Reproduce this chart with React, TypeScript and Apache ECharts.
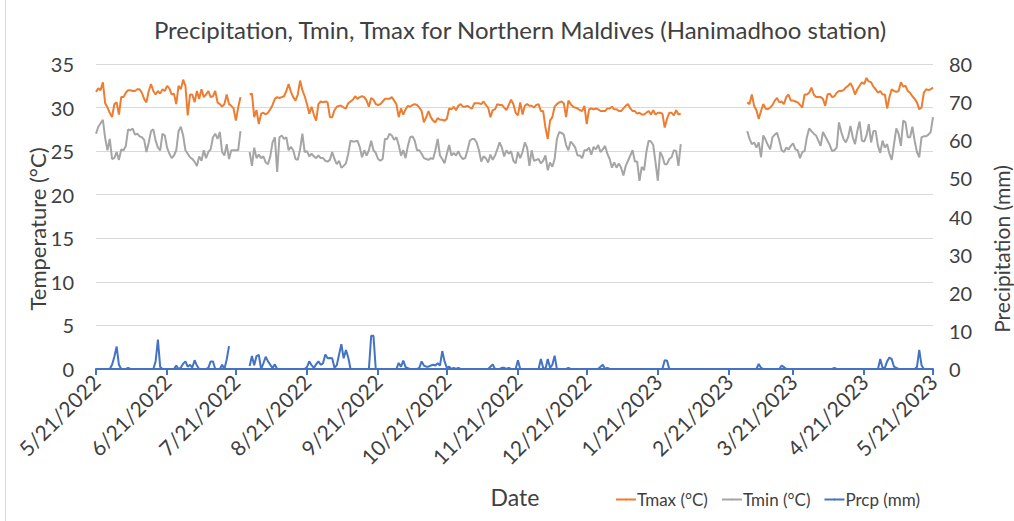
import React, { useEffect, useRef } from "react";
import * as echarts from "echarts";

const FONT = "Lato, 'Open Sans', sans-serif";
const TITLE = "Precipitation, Tmin, Tmax for Northern Maldives (Hanimadhoo station)";
const SERIES_NAMES = ["Tmax (°C)", "Tmin (°C)", "Prcp (mm)"];
const COLORS = ["#ED7D31", "#A5A5A5", "#4472C4"];
const Y_LEFT_NAME = "Temperature (°C)";
const Y_RIGHT_NAME = "Precipitation (mm)";
const X_NAME = "Date";

// Daily categories: 5/21/2022 ... 5/21/2023 (366 days)
function buildDates(): string[] {
  const out: string[] = [];
  const t0 = Date.UTC(2022, 4, 21);
  for (let i = 0; i < 366; i++) {
    const dt = new Date(t0 + i * 86400000);
    out.push(`${dt.getUTCMonth() + 1}/${dt.getUTCDate()}/${dt.getUTCFullYear()}`);
  }
  return out;
}
const dates = buildDates();

const N = null;
// Tmax (°C), rows of 10 days
const tmax = [
  31.8,32.2,32.0,32.9,30.5,30.0,29.4,28.9,30.4,30.6,
  29.2,31.2,31.2,31.7,32.0,32.0,31.9,31.9,32.1,32.1,
  31.7,31.0,30.6,31.9,32.7,31.9,31.5,31.9,31.6,32.1,
  31.9,32.5,32.2,31.5,31.6,30.4,32.5,32.1,33.2,32.5,
  29.1,31.5,31.5,30.6,31.9,31.0,32.1,31.2,31.5,31.9,
  31.2,31.3,31.9,30.6,30.4,30.1,30.4,31.5,30.4,30.2,
  29.9,28.5,30.0,31.2,N,N,N,31.5,31.6,28.9,
  29.7,28.1,29.3,29.4,29.2,29.4,29.8,30.3,31.0,31.2,
  31.1,31.2,31.3,31.9,32.7,31.8,31.2,30.8,31.5,33.1,
  32.0,31.3,30.4,29.3,30.1,29.2,28.5,30.4,30.7,30.6,
  30.7,30.6,28.9,28.9,29.7,30.1,30.2,30.2,30.0,29.9,
  30.5,30.7,30.9,31.3,31.0,31.2,31.3,31.2,30.8,30.1,
  31.1,30.9,30.4,30.3,30.4,30.7,31.0,31.0,31.0,31.2,
  30.8,30.4,28.9,29.9,29.2,29.8,30.2,30.1,30.3,30.4,
  30.3,30.0,29.6,28.3,28.9,29.6,28.9,28.5,28.3,28.8,
  28.6,28.6,28.5,28.7,29.9,29.8,30.1,29.7,30.2,30.4,
  30.1,30.1,30.2,30.0,29.9,30.5,30.5,30.5,30.4,30.7,
  30.3,30.0,28.9,29.7,29.8,30.4,30.3,30.3,30.0,29.7,
  30.3,30.9,30.4,29.4,29.1,30.6,29.2,30.2,30.4,30.2,
  30.2,30.0,30.3,30.4,29.6,29.6,27.7,26.4,28.5,28.9,
  30.1,30.4,30.6,30.7,30.5,28.9,30.8,30.4,30.1,30.0,
  29.9,29.7,29.6,30.2,28.1,29.8,29.9,29.8,29.9,29.8,
  29.6,29.6,29.6,29.9,29.9,30.1,29.8,29.8,29.6,29.6,
  29.9,30.2,30.4,29.9,29.6,29.6,29.3,29.4,29.2,29.2,
  29.4,29.6,29.2,29.7,29.2,29.4,29.4,29.3,27.7,28.7,
  29.4,29.4,29.1,29.7,29.2,29.3,N,N,N,N,
  N,N,N,N,N,N,N,N,N,N,
  N,N,N,N,N,N,N,N,N,N,
  N,N,N,N,30.6,30.4,31.5,30.2,29.7,28.7,
  29.6,30.4,29.9,29.8,30.0,30.3,30.8,31.1,30.6,30.7,
  30.4,31.2,31.5,30.8,30.8,30.7,30.6,30.3,30.0,31.5,
  31.5,31.7,32.3,31.5,31.2,31.2,31.2,31.0,30.2,31.5,
  31.6,31.2,31.3,31.7,31.9,31.9,32.0,32.3,32.5,32.8,
  32.3,31.5,32.1,32.5,32.9,32.7,33.4,33.0,32.9,32.4,
  32.1,31.7,31.9,31.5,31.5,29.9,31.2,32.1,31.9,31.8,
  31.9,32.9,32.4,32.5,31.9,31.7,31.3,31.0,30.6,29.8,
  30.0,31.7,32.1,32.0,32.1,32.3,
];

// Tmin (°C), rows of 10 days
const tmin = [
  27.0,27.8,28.2,28.6,26.5,25.1,26.4,24.1,24.2,24.9,
  24.0,25.2,25.1,25.6,27.5,27.4,27.6,26.9,27.0,26.7,
  26.6,26.3,24.9,26.0,27.3,27.5,26.2,25.4,25.1,27.0,
  26.8,25.4,24.7,24.2,24.5,25.1,27.3,27.8,26.8,25.1,
  24.7,24.3,24.1,23.8,23.3,24.4,23.9,25.1,24.2,24.9,
  25.2,26.6,27.0,26.4,27.2,24.9,24.5,25.8,24.1,25.1,
  25.1,25.1,25.1,27.3,N,N,N,24.9,23.3,25.4,
  24.2,24.6,24.2,24.4,23.7,23.5,24.4,26.0,26.6,22.6,
  26.6,26.8,26.4,26.6,25.1,25.5,25.1,24.1,24.0,25.2,
  27.0,24.9,25.0,24.4,24.7,24.4,24.2,24.5,24.2,24.2,
  23.9,23.8,24.0,24.9,24.1,23.5,23.9,23.1,23.3,23.6,
  24.7,26.2,26.1,26.1,26.2,25.5,24.3,25.1,24.5,25.1,
  26.2,25.1,24.8,24.1,23.9,24.1,26.4,26.4,27.0,26.8,
  26.3,26.6,25.7,24.5,25.1,24.2,25.6,26.6,26.7,26.2,
  25.1,25.1,24.7,24.2,24.1,24.0,24.2,24.1,25.1,26.4,
  24.5,24.1,23.6,24.7,25.7,24.5,24.8,24.5,25.0,24.4,
  24.1,24.2,25.1,26.2,26.4,26.4,26.0,25.1,23.8,24.4,
  24.2,23.7,24.6,24.0,24.5,25.2,26.0,25.4,24.4,25.1,
  24.7,25.0,23.9,23.6,24.9,24.2,24.9,26.0,25.4,23.3,
  25.1,23.9,24.0,24.1,23.6,23.9,24.5,22.8,23.7,23.2,
  24.1,26.4,27.2,27.1,26.9,25.7,25.1,26.1,25.8,25.4,
  24.5,24.5,24.2,25.1,25.1,25.4,24.6,25.5,25.2,25.7,
  24.9,25.2,25.6,24.7,24.1,23.1,23.7,23.1,23.6,23.1,
  22.2,23.3,23.9,24.5,25.1,23.8,23.8,21.6,23.2,22.8,
  24.9,26.2,26.1,25.7,23.7,21.6,24.9,24.4,23.5,23.5,
  24.1,24.3,25.1,25.0,23.3,25.8,N,N,N,N,
  N,N,N,N,N,N,N,N,N,N,
  N,N,N,N,N,N,N,N,N,N,
  N,N,N,N,27.3,26.4,25.8,26.0,25.4,26.0,
  24.3,26.8,26.3,25.7,25.2,26.6,26.9,27.1,26.2,25.1,
  24.9,25.4,25.2,25.6,25.9,25.2,25.1,24.2,24.9,25.0,
  26.6,27.6,27.3,27.0,26.8,26.2,25.6,27.2,26.7,26.2,
  25.7,25.0,25.1,25.4,28.3,27.2,26.4,26.0,26.6,27.9,
  26.6,25.8,27.3,28.4,26.2,26.1,26.8,28.1,26.0,27.3,
  27.3,25.6,24.8,26.2,25.4,25.8,24.7,24.0,25.8,27.6,
  27.0,25.6,28.5,28.3,26.6,26.6,27.8,26.2,24.9,24.3,
  26.6,26.7,26.7,26.9,27.2,28.9,
];

// Precipitation (mm), rows of 10 days
const prcp = [
  0,0,0,0,0,0,0,1.1,3.2,5.9,
  1.1,0,0,0,0.3,0,0,0,0,0,
  0,0,0,0,0,0,2.0,7.7,0.5,0,
  0,0,0,0,0,0.9,0,0.4,1.4,2.0,
  0.6,1.1,0.4,2.3,0.9,0,0,0,0,0.3,
  2.0,2.0,0,0,0,1.1,0,2.5,6.0,N,
  N,N,N,N,N,N,N,0.8,3.4,1.0,
  3.4,3.7,0,1.5,3.2,2.0,1.1,0.3,1.2,0,
  0,0,0,0,0,0,0,0,0,0,
  0,0,0.5,2.0,1.0,0.3,1.2,2.0,1.1,1.5,
  3.8,2.8,2.9,2.8,0.3,1.0,3.8,6.5,2.8,5.0,
  3.0,0,0,0,0,0,0,0,0,0,
  8.7,8.7,0,0,0,0,0,0,0,0,
  0,0,1.6,0.6,2.2,0.5,0.2,0,0,0,
  0,0.3,2.0,0.9,0.6,0.6,0.9,1.1,0.9,1.5,
  0.9,4.7,2.0,0.3,0.6,0,0.3,0,0.3,0,
  0,0,0,0,0,0,0,0,0,0,
  0,0,0.6,1.2,0,0,0,0.3,0.3,0,
  0.3,0,0,0,2.3,0,0,0,0,0,
  0,0,0,0,2.6,0.3,0,2.6,0.3,1.1,
  3.5,0,0,0,0,0,0.3,0,0,0,
  0,0,0,0,0,0,0,0,0,0,
  0.6,1.1,0,0.3,0,0,0,0,0,0,
  0,0,0,0,0,0,0,0,0,0,
  0,0,0,0,0,0,0,0,2.3,2.2,
  0,0,0,0,0,0,0,0,0,0,
  0,0,0,0,0,0,0,0,0,0,
  0,0,0,0,0,0,0,0,0,0,
  0,0,0,0,0,0,0,0,0,1.3,
  0.3,0,0,0,0,0,0,0,0,0.9,
  0.5,0,0,0,0,0,0,0,0,0,
  0,0,0,0,0,0,0,0,0,0,
  0,0,0.3,0,0,0,0,0,0,0,
  0,0,0,0,0,0,0,0,0,0,
  0,0,2.6,0.3,0.3,2.0,3.0,2.6,0.6,0.3,
  0,0,0,0,0,0,0,0,0.5,5.0,
  1.0,0,0,0,0,0,
];

const isTickDay = (_i: number, v: string) => v.split("/")[1] === "21";

export default function App() {
  const ref = useRef<HTMLDivElement>(null);
  useEffect(() => {
    if (!ref.current) return;
    const chart = echarts.init(ref.current, undefined, { renderer: "svg" });
    const txt = "#404040";
    chart.setOption({
      animation: false,
      backgroundColor: "#ffffff",
      textStyle: { fontFamily: FONT },
      title: {
        text: TITLE,
        left: 515,
        textAlign: "center",
        top: 12,
        textStyle: { fontSize: 24, fontWeight: "normal", color: txt, fontFamily: FONT },
      },
      legend: {
        left: 610,
        top: 486,
        itemGap: 13,
        itemWidth: 20,
        itemHeight: 2,
        textStyle: { fontSize: 17, color: txt, fontFamily: FONT, padding: [0, 0, 0, -4] },
        data: SERIES_NAMES,
      },
      grid: { left: 96, right: 81, top: 64, bottom: 152 },
      xAxis: {
        type: "category",
        data: dates,
        boundaryGap: false,
        axisLine: { lineStyle: { color: "#4472C4", width: 2 } },
        axisTick: { interval: isTickDay, length: 6, lineStyle: { color: "#4472C4", width: 2 } },
        axisLabel: {
          interval: isTickDay,
          rotate: 45,
          fontSize: 21,
          color: txt,
          margin: 9,
          fontFamily: FONT,
        },
        splitLine: { show: false },
      },
      yAxis: [
        {
          type: "value",
          min: 0,
          max: 35,
          interval: 5,
          axisLine: { show: false },
          axisTick: { show: false },
          axisLabel: { fontSize: 20, color: txt, margin: 22, fontFamily: FONT },
          splitLine: { lineStyle: { color: "#d9d9d9", width: 1 } },
        },
        {
          type: "value",
          min: 0,
          max: 80,
          interval: 10,
          position: "right",
          axisLine: { show: false },
          axisTick: { show: false },
          axisLabel: { fontSize: 20, color: txt, margin: 16, fontFamily: FONT },
          splitLine: { show: false },
        },
      ],
      graphic: [
        { type: "line", shape: { x1: 5.5, y1: 0, x2: 5.5, y2: 521 }, style: { stroke: "#d9d9d9", lineWidth: 1 } },
        {
          type: "text",
          x: 37,
          y: 229,
          rotation: Math.PI / 2,
          style: { text: Y_LEFT_NAME, fontSize: 22, fontFamily: FONT, fill: txt, align: "center", verticalAlign: "middle" },
        },
        {
          type: "text",
          x: 1001,
          y: 249,
          rotation: Math.PI / 2,
          style: { text: Y_RIGHT_NAME, fontSize: 21, fontFamily: FONT, fill: txt, align: "center", verticalAlign: "middle" },
        },
        {
          type: "text",
          x: 515,
          y: 497,
          style: { text: X_NAME, fontSize: 23, fontFamily: FONT, fill: txt, align: "center", verticalAlign: "middle" },
        },
      ],
      series: [
        {
          name: SERIES_NAMES[0],
          type: "line",
          data: tmax,
          yAxisIndex: 0,
          symbol: "none",
          color: COLORS[0],
          lineStyle: { width: 2, color: COLORS[0] },
        },
        {
          name: SERIES_NAMES[1],
          type: "line",
          data: tmin,
          yAxisIndex: 0,
          symbol: "none",
          color: COLORS[1],
          lineStyle: { width: 2, color: COLORS[1] },
        },
        {
          name: SERIES_NAMES[2],
          type: "line",
          data: prcp,
          yAxisIndex: 1,
          symbol: "none",
          color: COLORS[2],
          lineStyle: { width: 2, color: COLORS[2] },
        },
      ],
    });
    return () => chart.dispose();
  }, []);
  return (
    <div
      ref={ref}
      style={{ position: "fixed", left: 0, top: 0, width: 1014, height: 521 }}
    />
  );
}
